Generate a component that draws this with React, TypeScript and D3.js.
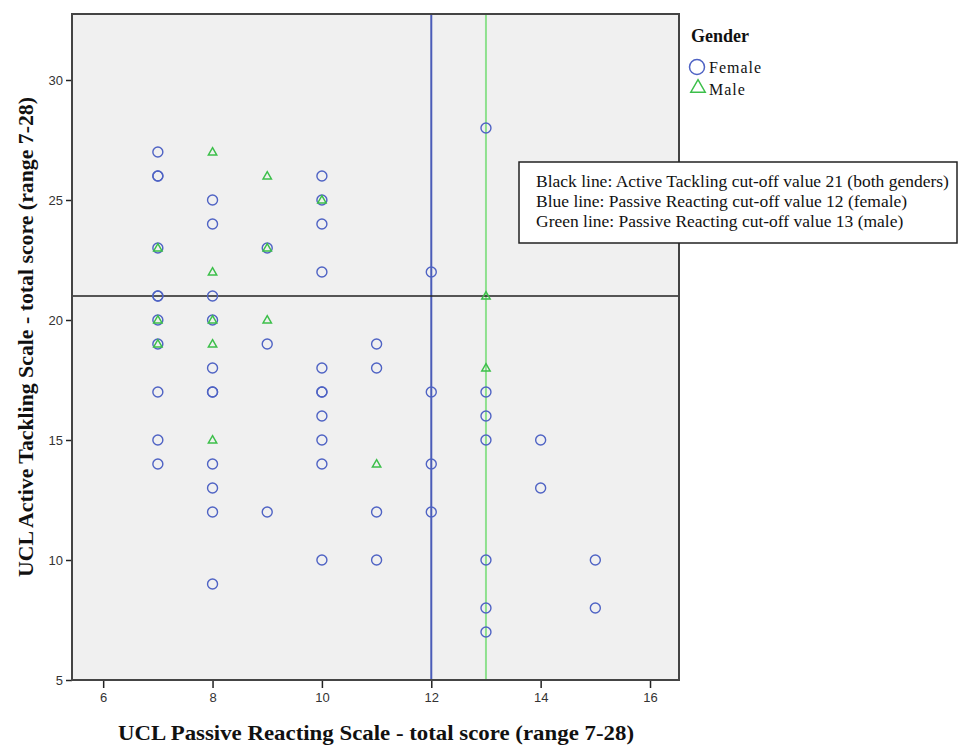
import React, { useEffect, useRef } from 'react';
import * as d3 from 'd3';

// values (duplicates = overplotted points)
const femalePassive = [7, 7, 7, 7, 7, 7, 7, 7, 7, 7, 7,
  8, 8, 8, 8, 8, 8, 8, 8, 8, 8, 8,
  9, 9, 9,
  10, 10, 10, 10, 10, 10, 10, 10, 10, 10, 10,
  11, 11, 11, 11,
  12, 12, 12, 12,
  13, 13, 13, 13, 13, 13, 13,
  14, 14,
  15, 15];
const femaleActive = [27, 26, 26, 23, 21, 21, 20, 19, 17, 15, 14,
  25, 24, 21, 20, 18, 17, 17, 14, 13, 12, 9,
  23, 19, 12,
  26, 25, 24, 22, 18, 17, 17, 16, 15, 14, 10,
  19, 18, 12, 10,
  22, 17, 14, 12,
  28, 17, 16, 15, 10, 8, 7,
  15, 13,
  10, 8];
const malePassive = [7, 7, 7, 8, 8, 8, 8, 8, 9, 9, 9, 10, 11, 13, 13];
const maleActive = [23, 20, 19, 27, 22, 20, 19, 15, 26, 23, 20, 25, 14, 21, 18];

const xTicks = [6, 8, 10, 12, 14, 16];
const yTicks = [5, 10, 15, 20, 25, 30];

const activeCutoff = 21;
const femaleCutoff = 12;
const maleCutoff = 13;

const notes = [
  'Black line: Active Tackling cut-off value 21 (both genders)',
  'Blue line: Passive Reacting cut-off value 12 (female)',
  'Green line: Passive Reacting cut-off value 13 (male)',
];

const blue = '#4f63c4';
const green = '#3cbf4a';
const serif = '"Liberation Serif", "Times New Roman", serif';

const App: React.FC = () => {
  const ref = useRef<SVGSVGElement | null>(null);

  useEffect(() => {
    if (!ref.current) return;
    const svg = d3.select(ref.current);
    svg.selectAll('*').remove();
    const width = 959;
    const height = 745;
    const margin = { top: 14, right: 280, bottom: 65, left: 72 };
    svg.attr('width', width).attr('height', height);

    const x = d3.scaleLinear().domain([5.43, 16.53]).range([margin.left, width - margin.right]);
    const y = d3.scaleLinear().domain([5, 32.75]).range([height - margin.bottom, margin.top]);

    svg.append('rect')
      .attr('x', margin.left).attr('y', margin.top)
      .attr('width', x.range()[1] - margin.left)
      .attr('height', y.range()[0] - margin.top)
      .attr('fill', '#f0f0f0');

    // axes
    const xAxis = svg.append('g')
      .attr('transform', `translate(0,${y.range()[0]})`)
      .call(d3.axisBottom(x).tickValues(xTicks).tickSize(8).tickPadding(5));
    const yAxis = svg.append('g')
      .attr('transform', `translate(${margin.left},0)`)
      .call(d3.axisLeft(y).tickValues(yTicks).tickSize(6).tickPadding(3));
    [xAxis, yAxis].forEach(g => {
      g.select('.domain').remove();
      g.selectAll('line').attr('stroke', '#222').attr('stroke-width', 1.5);
      g.selectAll('text')
        .attr('font-family', '"Liberation Sans", Arial, sans-serif')
        .attr('font-size', 13).attr('fill', '#333');
    });

    // cut-off lines
    svg.append('line')
      .attr('x1', x(femaleCutoff)).attr('x2', x(femaleCutoff))
      .attr('y1', margin.top).attr('y2', y.range()[0])
      .attr('stroke', '#4a5cb8').attr('stroke-width', 2);
    svg.append('line')
      .attr('x1', x(maleCutoff)).attr('x2', x(maleCutoff))
      .attr('y1', margin.top).attr('y2', y.range()[0])
      .attr('stroke', '#8ee08e').attr('stroke-width', 2);
    svg.append('line')
      .attr('x1', margin.left).attr('x2', x.range()[1])
      .attr('y1', y(activeCutoff)).attr('y2', y(activeCutoff))
      .attr('stroke', '#222').attr('stroke-width', 1.5);

    // points
    svg.append('g').selectAll('circle')
      .data(femalePassive.map((p, i) => [p, femaleActive[i]]))
      .enter().append('circle')
      .attr('cx', d => x(d[0])).attr('cy', d => y(d[1]))
      .attr('r', 5)
      .attr('fill', 'none').attr('stroke', blue).attr('stroke-width', 1.4);

    const tri = d3.symbol().type(d3.symbolTriangle).size(30);
    svg.append('g').selectAll('path')
      .data(malePassive.map((p, i) => [p, maleActive[i]]))
      .enter().append('path')
      .attr('d', tri)
      .attr('transform', d => `translate(${x(d[0])},${y(d[1]) + 0.5})`)
      .attr('fill', 'none').attr('stroke', green).attr('stroke-width', 1.5);

    // frame
    svg.append('rect')
      .attr('x', margin.left).attr('y', margin.top)
      .attr('width', x.range()[1] - margin.left)
      .attr('height', y.range()[0] - margin.top)
      .attr('fill', 'none').attr('stroke', '#444').attr('stroke-width', 2);

    // axis titles
    svg.append('text')
      .attr('x', 118).attr('y', 740)
      .attr('textLength', 516).attr('lengthAdjust', 'spacingAndGlyphs')
      .attr('font-family', serif)
      .attr('font-weight', 'bold').attr('font-size', 21).attr('fill', '#111')
      .text('UCL Passive Reacting Scale - total score (range 7-28)');
    svg.append('text')
      .attr('transform', `translate(33,577) rotate(-90)`)
      .attr('textLength', 480).attr('lengthAdjust', 'spacingAndGlyphs')
      .attr('font-family', serif)
      .attr('font-weight', 'bold').attr('font-size', 21).attr('fill', '#111')
      .text('UCL Active Tackling Scale - total score (range 7-28)');

    // legend
    svg.append('text')
      .attr('x', 691).attr('y', 42)
      .attr('font-family', serif).attr('font-weight', 'bold')
      .attr('font-size', 18).attr('fill', '#111')
      .text('Gender');
    svg.append('circle')
      .attr('cx', 697).attr('cy', 67).attr('r', 7.5)
      .attr('fill', 'none').attr('stroke', blue).attr('stroke-width', 1.5);
    svg.append('path')
      .attr('d', d3.symbol().type(d3.symbolTriangle).size(90)())
      .attr('transform', 'translate(698,88)')
      .attr('fill', 'none').attr('stroke', green).attr('stroke-width', 1.5);
    svg.append('text')
      .attr('x', 709).attr('y', 73)
      .attr('font-family', serif).attr('font-size', 16).attr('letter-spacing', 1)
      .attr('fill', '#111').text('Female');
    svg.append('text')
      .attr('x', 709).attr('y', 95)
      .attr('font-family', serif).attr('font-size', 16).attr('letter-spacing', 1)
      .attr('fill', '#111').text('Male');

    // note box
    svg.append('rect')
      .attr('x', 519).attr('y', 162).attr('width', 438).attr('height', 81)
      .attr('fill', '#fff').attr('stroke', '#222').attr('stroke-width', 1.5);
    svg.append('g')
      .attr('transform', 'translate(536,0) scale(1.06,1)')
      .selectAll('text')
      .data(notes)
      .enter().append('text')
      .attr('x', 0).attr('y', (d, i) => 187 + i * 20)
      .attr('font-family', serif).attr('font-size', 16.5).attr('fill', '#111')
      .text(d => d);
  }, []);

  return <svg ref={ref} style={{ position: 'absolute', left: 0, top: 0, display: 'block' }} />;
};

export default App;
